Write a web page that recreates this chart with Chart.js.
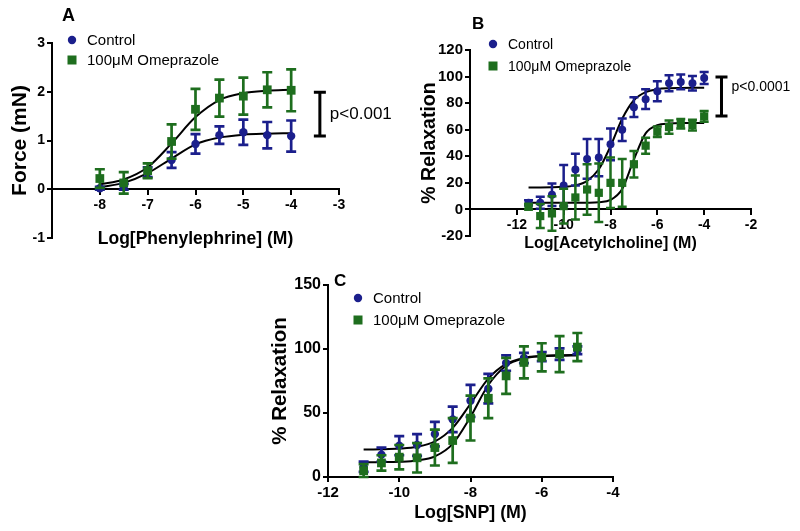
<!DOCTYPE html>
<html>
<head>
<meta charset="utf-8">
<script src="https://cdn.jsdelivr.net/npm/chart.js@4.4.1/dist/chart.umd.min.js"></script>
<style>
  html, body { margin: 0; padding: 0; background: #fff; }
  #wrap { position: relative; width: 800px; height: 531px; }
  #wrap canvas { position: absolute; left: 0; top: 0; }
</style>
</head>
<body>
<div id="wrap">
  <canvas id="chartA" width="800" height="531"></canvas>
  <canvas id="chartB" width="800" height="531"></canvas>
  <canvas id="chartC" width="800" height="531"></canvas>
</div>
<script>
// series names
const seriesNames = ['Control', '100\u03bcM Omeprazole'];

// Panel A - phenylephrine
const dosesA = [-8, -7.5, -7, -6.5, -6, -5.5, -5, -4.5, -4];
const controlA = [0.02, 0.05, 0.35, 0.60, 0.93, 1.11, 1.17, 1.11, 1.09];
const controlErrA = [0.03, 0.06, 0.10, 0.16, 0.20, 0.18, 0.26, 0.27, 0.32];
const omepA = [0.22, 0.13, 0.38, 0.98, 1.64, 1.87, 1.91, 2.04, 2.03];
const omepErrA = [0.19, 0.22, 0.15, 0.35, 0.42, 0.38, 0.38, 0.36, 0.43];
const controlFitA = [0.04, 0.13, 0.33, 0.63, 0.92, 1.06, 1.12, 1.14, 1.15];
const omepFitA = [0.10, 0.20, 0.45, 0.94, 1.48, 1.83, 1.97, 2.02, 2.04];

// Panel B - acetylcholine
const dosesB = [-11.5, -11, -10.5, -10, -9.5, -9, -8.5, -8, -7.5, -7, -6.5, -6, -5.5, -5, -4.5, -4];
const controlB = [5, 5, 11, 18, 30, 38, 39, 49, 60, 77, 83, 89, 95, 96, 95, 99];
const controlErrB = [2, 4.5, 8.5, 15.5, 12, 15, 14, 12, 8.5, 7.5, 7.5, 7.5, 6, 5.5, 5.5, 4.5];
const omepB = [2, -5, -3, 2.5, 9, 15, 12.5, 20, 20, 34, 48, 58.5, 62, 64.5, 63.5, 70];
const omepErrB = [2, 9, 13, 13, 16.5, 19, 22, 19, 18, 10, 6, 4, 5, 3.5, 4, 4];
const controlFitB = [16.5, 16.5, 16.6, 17.0, 18.1, 21.5, 30.2, 47.6, 68.3, 82.2, 88.3, 90.5, 91.2, 91.4, 91.5, 91.5];
const omepFitB = [5, 5, 5, 5, 5, 5.05, 5.4, 7.2, 15.4, 37.6, 57.2, 63.4, 64.7, 65, 65, 65];

// Panel C - SNP
const dosesC = [-11, -10.5, -10, -9.5, -9, -8.5, -8, -7.5, -7, -6.5, -6, -5.5, -5];
const controlC = [8, 17.5, 24.5, 25, 33.5, 45, 59.5, 69, 89, 93, 94, 96, 99];
const controlErrC = [4, 5.5, 7.5, 8.5, 9.5, 10, 12.5, 11.5, 6, 4, 3.5, 4.5, 3];
const omepC = [5, 11, 15.5, 15, 23, 28.5, 46, 61.5, 79, 89.5, 93.5, 96, 101.5];
const omepErrC = [5, 6, 9.5, 11.5, 14, 17.5, 17.5, 15.5, 14, 12.5, 11, 14, 11];
const controlFitC = [21.5, 21.7, 22.2, 23.6, 27.8, 38.4, 57.2, 76.8, 88.3, 93.1, 94.7, 95.2, 95.4];
const omepFitC = [11.5, 11.6, 11.9, 12.9, 16.1, 25.9, 47.0, 71.9, 86.9, 92.6, 94.3, 94.8, 95];

const BLUE = '#1b1f8c';
const GREEN = '#1e6e1e';
const FONT = 'Arial, "Liberation Sans", Helvetica, sans-serif';

function pts(xs, ys) {
  return xs.map((x, i) => ({ x: x, y: ys[i] }));
}

// error bars, drawn just before each point dataset so layering follows the datasets
const errorBars = {
  id: 'errorBars',
  beforeDatasetDraw(chart, args) {
    const ds = chart.data.datasets[args.index];
    if (!ds.errors) return;
    const ctx = chart.ctx;
    const xs = chart.scales.x, ys = chart.scales.y;
    ctx.save();
    ctx.strokeStyle = ds.borderColor;
    ctx.lineWidth = ds.errWidth;
    ds.data.forEach((p, j) => {
      const e = ds.errors[j];
      const x = xs.getPixelForValue(p.x);
      const top = ys.getPixelForValue(p.y + e);
      const bot = ys.getPixelForValue(p.y - e);
      const c = ds.capHalf;
      ctx.beginPath();
      ctx.moveTo(x, top); ctx.lineTo(x, bot);
      ctx.moveTo(x - c, top); ctx.lineTo(x + c, top);
      ctx.moveTo(x - c, bot); ctx.lineTo(x + c, bot);
      ctx.stroke();
    });
    ctx.restore();
  }
};

// panel letter, legend and significance bracket
const deco = {
  id: 'deco',
  afterDraw(chart, args, o) {
    const ctx = chart.ctx;
    ctx.save();
    ctx.fillStyle = '#000';
    ctx.textBaseline = 'middle';
    ctx.textAlign = 'left';
    ctx.font = 'bold ' + o.letterSize + 'px ' + FONT;
    ctx.fillText(o.letter, o.letterX, o.letterY);

    const items = chart.data.datasets.filter(d => d.errors).reverse();
    ctx.font = o.legendSize + 'px ' + FONT;
    items.forEach((d, i) => {
      const y = o.legendY + i * o.legendGap;
      ctx.fillStyle = d.backgroundColor;
      if (d.pointStyle === 'rect') {
        ctx.fillRect(o.legendX - 4.5, y - 4.5, 9, 9);
      } else {
        ctx.beginPath();
        ctx.arc(o.legendX, y, 4.2, 0, Math.PI * 2);
        ctx.fill();
      }
      ctx.fillStyle = '#000';
      ctx.fillText(d.label, o.legendX + 15, y + 1);
    });

    if (o.bracket) {
      const b = o.bracket;
      const x = chart.scales.x.getPixelForValue(b.x);
      const y1 = chart.scales.y.getPixelForValue(b.y1);
      const y2 = chart.scales.y.getPixelForValue(b.y2);
      ctx.strokeStyle = '#000';
      ctx.lineWidth = 3;
      ctx.beginPath();
      ctx.moveTo(x, y1); ctx.lineTo(x, y2);
      ctx.moveTo(x - 6, y1); ctx.lineTo(x + 6, y1);
      ctx.moveTo(x - 6, y2); ctx.lineTo(x + 6, y2);
      ctx.stroke();
      ctx.font = b.size + 'px ' + FONT;
      ctx.fillText(b.text, x + 10, chart.scales.y.getPixelForValue(b.textY));
    }
    ctx.restore();
  }
};

function makeDatasets(doses, ctl, ctlErr, om, omErr, ctlFit, omFit, style) {
  return [
    {
      label: seriesNames[1], data: pts(doses, om), errors: omErr,
      backgroundColor: GREEN, borderColor: GREEN, pointStyle: 'rect',
      pointRadius: style.rect, borderWidth: 0, errWidth: style.err, capHalf: style.cap
    },
    {
      label: seriesNames[0], data: pts(doses, ctl), errors: ctlErr,
      backgroundColor: BLUE, borderColor: BLUE, pointStyle: 'circle',
      pointRadius: style.circle, borderWidth: 0, errWidth: style.err, capHalf: style.cap
    },
    {
      label: 'fit omeprazole', data: pts(doses, omFit), showLine: true, pointRadius: 0,
      borderColor: '#000', borderWidth: 2, cubicInterpolationMode: 'monotone'
    },
    {
      label: 'fit control', data: pts(doses, ctlFit), showLine: true, pointRadius: 0,
      borderColor: '#000', borderWidth: 2, cubicInterpolationMode: 'monotone'
    }
  ];
}

function axis(cfg) {
  return {
    type: 'linear',
    min: cfg.min, max: cfg.max,
    position: cfg.position,
    afterFit: cfg.fit,
    ticks: {
      stepSize: cfg.step, color: '#000', padding: 2,
      font: { family: FONT, size: cfg.tickSize, weight: 'bold' },
      callback: cfg.hideMin ? (v => v === cfg.min ? '' : v) : (v => v)
    },
    grid: { drawOnChartArea: false, tickLength: 5, color: '#000', lineWidth: 2 },
    border: { color: '#000', width: 2 },
    title: {
      display: true, text: cfg.title, color: '#000',
      font: { family: FONT, size: cfg.titleSize, weight: 'bold' },
      padding: cfg.titlePad
    }
  };
}

function makeChart(id, datasets, pad, xCfg, yCfg, decoOpts) {
  return new Chart(document.getElementById(id), {
    type: 'scatter',
    data: { datasets: datasets },
    options: {
      responsive: false,
      animation: false,
      layout: { padding: pad },
      scales: { x: axis(xCfg), y: axis(yCfg) },
      plugins: { legend: { display: false }, tooltip: { enabled: false }, deco: decoOpts }
    },
    plugins: [errorBars, deco]
  });
}

const style = { rect: 6.2, circle: 4.2, err: 2.7, cap: 5 };

makeChart('chartA',
  makeDatasets(dosesA, controlA, controlErrA, omepA, omepErrA, controlFitA, omepFitA, style),
  { left: 7, right: 461, top: 43, bottom: 293 },
  { min: -9, max: -3, step: 1, position: { y: 0 }, hideMin: true, tickSize: 14,
    title: 'Log[Phenylephrine] (M)', titleSize: 17.5, titlePad: { top: 0, bottom: 0 },
    fit: s => { s.height = 60; } },
  { min: -1, max: 3, step: 1, position: 'left', tickSize: 14,
    title: 'Force (mN)', titleSize: 21, titlePad: { top: 1, bottom: 0 },
    fit: s => { s.width = 45; } },
  { letter: 'A', letterX: 62, letterY: 16, letterSize: 18,
    legendX: 72, legendY: 40, legendGap: 20, legendSize: 15,
    bracket: { x: -3.4, y1: 1.09, y2: 1.99, textY: 1.53, text: 'p<0.001', size: 17 } }
);

makeChart('chartB',
  makeDatasets(dosesB, controlB, controlErrB, omepB, omepErrB, controlFitB, omepFitB,
    { rect: 5.8, circle: 4, err: 2.5, cap: 4.5 }),
  { left: 418, right: 49, top: 50, bottom: 295 },
  { min: -14, max: -2, step: 2, position: { y: 0 }, hideMin: true, tickSize: 14,
    title: 'Log[Acetylcholine] (M)', titleSize: 16, titlePad: { top: 0, bottom: 0 },
    fit: s => { s.height = 44; } },
  { min: -20, max: 120, step: 20, position: 'left', tickSize: 15,
    title: '% Relaxation', titleSize: 19.5, titlePad: { top: 0, bottom: 0 },
    fit: s => { s.width = 52; } },
  { letter: 'B', letterX: 472, letterY: 24, letterSize: 17,
    legendX: 493, legendY: 44, legendGap: 22, legendSize: 14,
    bracket: { x: -3.26, y1: 70.4, y2: 99.6, textY: 92, text: 'p<0.0001', size: 14 } }
);

makeChart('chartC',
  makeDatasets(dosesC, controlC, controlErrC, omepC, omepErrC, controlFitC, omepFitC, style),
  { left: 268, right: 187, top: 285, bottom: 7 },
  { min: -12, max: -4, step: 2, position: 'bottom', tickSize: 15,
    title: 'Log[SNP] (M)', titleSize: 17.8, titlePad: { top: 0, bottom: 0 },
    fit: s => { s.height = 47; } },
  { min: 0, max: 150, step: 50, position: 'left', tickSize: 16,
    title: '% Relaxation', titleSize: 20.5, titlePad: { top: 0, bottom: 0 },
    fit: s => { s.width = 60; } },
  { letter: 'C', letterX: 334, letterY: 281, letterSize: 17,
    legendX: 358, legendY: 298, legendGap: 22, legendSize: 15 }
);
</script>
</body>
</html>
